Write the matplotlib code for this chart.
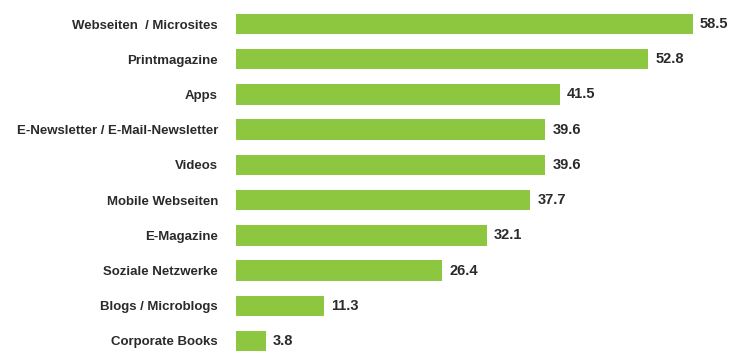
import matplotlib
matplotlib.use("Agg")
import matplotlib.pyplot as plt

categories = ["Webseiten  / Microsites", "Printmagazine", "Apps",
              "E-Newsletter / E-Mail-Newsletter", "Videos", "Mobile Webseiten",
              "E-Magazine", "Soziale Netzwerke", "Blogs / Microblogs", "Corporate Books"]
values = [58.5, 52.8, 41.5, 39.6, 39.6, 37.7, 32.1, 26.4, 11.3, 3.8]

W, H = 733, 355
fig = plt.figure(figsize=(W / 100, H / 100), dpi=100)
left = 236 / W
ax = fig.add_axes([left, 0, 1 - left, 1])

y = list(range(len(categories)))
ax.barh(y, values, height=0.58, color="#8dc63f", edgecolor="none")

scale = 7.81  # px per unit
ax.set_xlim(0, (W - 236) / scale)
spacing = 35.2
ax.set_ylim(9 + (355 - 341) / spacing, -24 / spacing)

for yi, v in zip(y, values):
    ax.text(v + 0.9, yi, f"{v:.1f}", va="center", ha="left",
            fontsize=10.5, fontweight="bold", color="#2a2a2a", family="Liberation Sans")

ax.set_yticks(y)
ax.set_yticklabels(categories, fontsize=9.5, fontweight="bold", color="#2a2a2a",
                   family="Liberation Sans")
ax.tick_params(axis="y", length=0, pad=13)
ax.set_xticks([])
for s in ax.spines.values():
    s.set_visible(False)

fig.savefig("out.png", dpi=100)
